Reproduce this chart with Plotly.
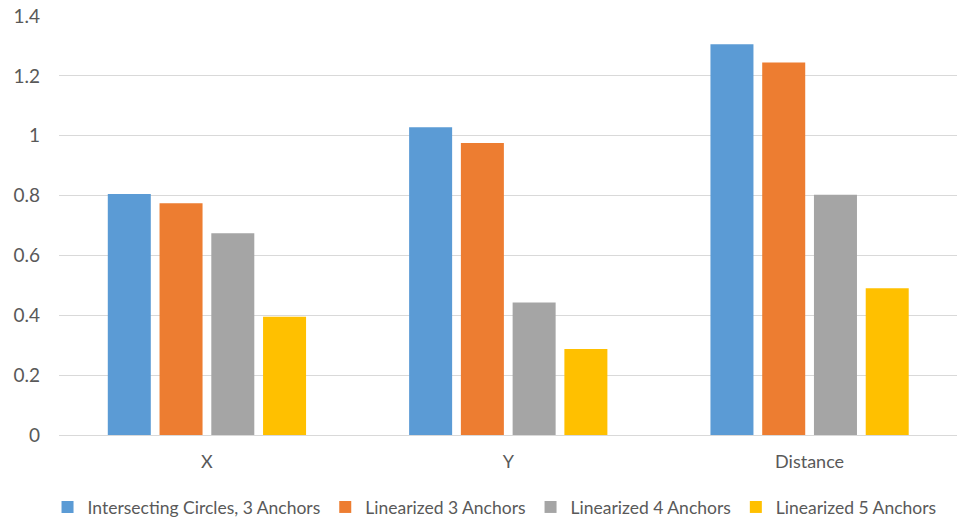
import plotly.graph_objects as go

categories = ["X", "Y", "Distance"]
series_names = [
    "Intersecting Circles, 3 Anchors",
    "Linearized 3 Anchors",
    "Linearized 4 Anchors",
    "Linearized 5 Anchors",
]
circles_3 = [0.805, 1.028, 1.306]
linear_3 = [0.774, 0.976, 1.245]
linear_4 = [0.674, 0.443, 0.803]
linear_5 = [0.395, 0.287, 0.490]
colors = ["#5B9BD5", "#ED7D31", "#A5A5A5", "#FFC000"]
y_ticks = [0, 0.2, 0.4, 0.6, 0.8, 1, 1.2, 1.4]

FONT = "Lato, Roboto, sans-serif"
TEXT = "#595959"

fig = go.Figure()
for name, vals, col in zip(series_names, [circles_3, linear_3, linear_4, linear_5], colors):
    fig.add_trace(go.Bar(
        x=categories, y=vals, name=name,
        marker=dict(color=col, line=dict(width=0)),
    ))

fig.update_layout(
    width=957, height=520,
    margin=dict(l=59, r=0, t=16, b=85, autoexpand=False),
    paper_bgcolor="white", plot_bgcolor="white",
    barmode="group", bargap=0.313, bargroupgap=0.169,
    font=dict(family=FONT, size=18, color=TEXT),
    showlegend=True,
    legend=dict(
        orientation="h", x=0.485, xanchor="center",
        y=-0.172, yanchor="middle",
        font=dict(family=FONT, size=17.5, color=TEXT),
        itemwidth=30, tracegroupgap=0,
    ),
    xaxis=dict(
        range=[-0.4909, 2.4892],
        showgrid=False, showline=True, linecolor="#D9D9D9", linewidth=1,
        ticks="", tickfont=dict(size=18, color=TEXT), ticklabelstandoff=10,
    ),
    yaxis=dict(
        range=[0, 1.4], tickvals=y_ticks, showgrid=True, gridcolor="#D9D9D9",
        gridwidth=1, zeroline=False, showline=False, ticks="",
        tickfont=dict(size=19, color=TEXT), ticklabelstandoff=18,
    ),
)

fig.write_html("out.html")
